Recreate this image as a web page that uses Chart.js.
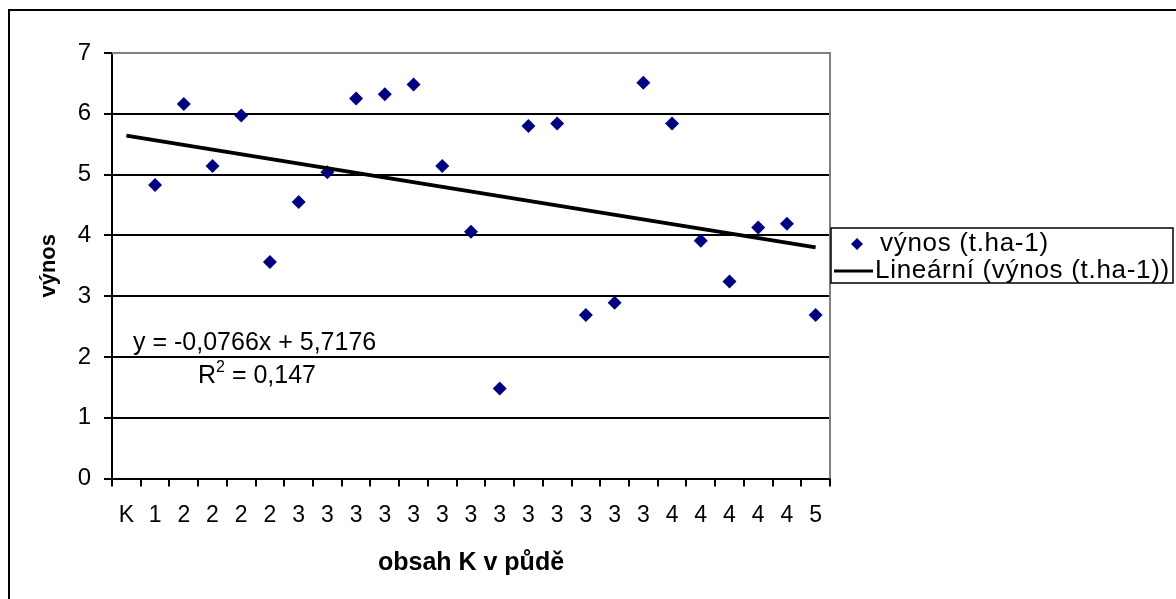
<!DOCTYPE html>
<html>
<head>
<meta charset="utf-8">
<script src="https://cdn.jsdelivr.net/npm/chart.js@4.4.1/dist/chart.umd.min.js"></script>
<style>
  html, body { margin: 0; padding: 0; background: #fff; }
  canvas { display: block; }
</style>
</head>
<body>
<canvas id="vynos-chart" width="1176" height="599"></canvas>
<script>
// obsah K v půdě (category labels along x)
const categories = ['K', '1', '2', '2', '2', '2',
    '3', '3', '3', '3', '3', '3', '3', '3', '3', '3', '3', '3', '3',
    '4', '4', '4', '4', '4', '5'];

// výnos (t.ha-1); the K plot has no value
const vynos = [null, 4.83, 6.16, 5.14, 5.97, 3.56, 4.55, 5.04, 6.25, 6.32, 6.48, 5.14,
    4.06, 1.48, 5.80, 5.84, 2.69, 2.89, 6.51, 5.84, 3.91, 3.24, 4.13, 4.19, 2.69];

// linear trend y = -0,0766x + 5,7176, R2 = 0,147
const trendSlope = -0.0766;
const trendIntercept = 5.7176;
const trendR2 = 0.147;

const yTicks = [0, 1, 2, 3, 4, 5, 6, 7];

const FONT = "'Liberation Sans', Arial, sans-serif";
const fmt = (v, d) => v.toFixed(d).replace('.', ',');

// trendline only needs its two end points, x = 1 .. n
const trend = categories.map((c, i) =>
    (i === 0 || i === categories.length - 1) ? trendIntercept + trendSlope * (i + 1) : null);

const frame = {
    id: 'frame',
    beforeDraw(chart) {
        const ctx = chart.ctx;
        ctx.save();
        ctx.fillStyle = '#fff';
        ctx.fillRect(0, 0, chart.width, chart.height);
        ctx.strokeStyle = '#000';
        ctx.lineWidth = 2;
        ctx.strokeRect(9, 10, chart.width + 20, chart.height + 20);
        ctx.restore();
    },
    beforeDatasetsDraw(chart) {
        const { ctx, chartArea: a } = chart;
        ctx.save();
        ctx.strokeStyle = '#808080';
        ctx.lineWidth = 2;
        ctx.beginPath();
        ctx.moveTo(a.left, a.top);
        ctx.lineTo(a.right, a.top);
        ctx.lineTo(a.right, a.bottom);
        ctx.stroke();
        ctx.restore();
    },
    afterDraw(chart) {
        const { ctx, chartArea: a } = chart;
        ctx.save();
        ctx.fillStyle = '#000';
        ctx.textBaseline = 'alphabetic';

        // trend equation
        ctx.font = '25px ' + FONT;
        ctx.fillText('y = ' + fmt(trendSlope, 4) + 'x + ' + fmt(trendIntercept, 4), a.left + 21, 350);
        let x = a.left + 86;
        ctx.fillText('R', x, 383);
        x += ctx.measureText('R').width;
        ctx.font = '16px ' + FONT;
        ctx.fillText('2', x, 372);
        x += ctx.measureText('2').width;
        ctx.font = '25px ' + FONT;
        ctx.fillText(' = ' + fmt(trendR2, 3), x, 383);

        // legend box
        const lx = a.right + 1, ly = 228, lw = 342, lh = 55;
        ctx.strokeStyle = '#000';
        ctx.lineWidth = 1.5;
        ctx.strokeRect(lx, ly, lw, lh);
        ctx.font = '26px ' + FONT;
        ctx.letterSpacing = '0.7px';
        ctx.textBaseline = 'middle';
        const ds = chart.data.datasets;
        // marker entry
        ctx.fillStyle = '#000080';
        ctx.beginPath();
        ctx.moveTo(lx + 26, ly + 10);
        ctx.lineTo(lx + 32, ly + 16);
        ctx.lineTo(lx + 26, ly + 22);
        ctx.lineTo(lx + 20, ly + 16);
        ctx.closePath();
        ctx.fill();
        ctx.fillStyle = '#000';
        ctx.fillText(ds[0].label, lx + 49, ly + 16);
        // line entry
        ctx.lineWidth = 3;
        ctx.beginPath();
        ctx.moveTo(lx + 3, ly + 43);
        ctx.lineTo(lx + 42, ly + 43);
        ctx.stroke();
        ctx.fillText(ds[1].label, lx + 44, ly + 43);
        ctx.restore();
    }
};

new Chart(document.getElementById('vynos-chart'), {
    type: 'line',
    data: {
        labels: categories,
        datasets: [{
            label: 'výnos (t.ha-1)',
            data: vynos,
            showLine: false,
            pointStyle: 'rectRot',
            pointRadius: 7,
            pointBorderWidth: 0,
            backgroundColor: '#000080',
            borderColor: '#000080',
            order: 2
        }, {
            label: 'Lineární (výnos (t.ha-1))',
            data: trend,
            spanGaps: true,
            borderColor: '#000',
            borderWidth: 4,
            pointRadius: 0,
            order: 1
        }]
    },
    options: {
        responsive: false,
        animation: false,
        layout: { padding: { top: 53, right: 346, left: 0, bottom: 0 } },
        plugins: {
            legend: { display: false },
            tooltip: { enabled: false }
        },
        scales: {
            x: {
                offset: true,
                grid: {
                    offset: true,
                    drawOnChartArea: false,
                    color: '#000',
                    lineWidth: 2,
                    tickLength: 8
                },
                border: { color: '#000', width: 2 },
                ticks: {
                    color: '#000',
                    font: { family: FONT, size: 23 },
                    padding: 15,
                    maxRotation: 0,
                    autoSkip: false
                },
                title: {
                    display: true,
                    text: 'obsah K v půdě',
                    color: '#000',
                    font: { family: FONT, size: 25, weight: 'bold' },
                    padding: { top: 0, bottom: 21 }
                },
                afterFit(scale) { scale.height = 120.5; }
            },
            y: {
                min: 0,
                max: 7,
                afterBuildTicks(scale) { scale.ticks = yTicks.map(v => ({ value: v })); },
                grid: {
                    color: ctx => ctx.tick && ctx.tick.value === 7 ? '#808080' : '#000',
                    tickColor: '#000',
                    lineWidth: 2,
                    tickLength: 8
                },
                border: { color: '#000', width: 2 },
                ticks: {
                    color: '#000',
                    font: { family: FONT, size: 24 },
                    padding: 13
                },
                title: {
                    display: true,
                    text: 'výnos',
                    color: '#000',
                    font: { family: FONT, size: 22, weight: 'bold' },
                    padding: { top: 36, bottom: 0 }
                },
                afterFit(scale) { scale.width = 112; }
            }
        }
    },
    plugins: [frame]
});
</script>
</body>
</html>
